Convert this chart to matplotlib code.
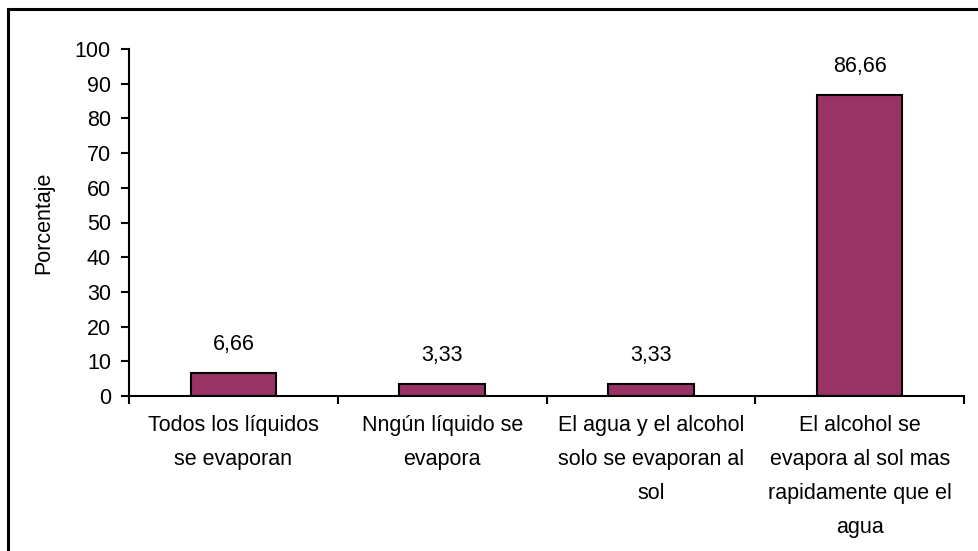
import matplotlib.pyplot as plt
from matplotlib.patches import Rectangle

# Respuestas y porcentajes
categorias = [
    "Todos los líquidos\nse evaporan",
    "Nngún líquido se\nevapora",
    "El agua y el alcohol\nsolo se evaporan al\nsol",
    "El alcohol se\nevapora al sol mas\nrapidamente que el\nagua",
]
porcentajes = [6.66, 3.33, 3.33, 86.66]
etiquetas = ["6,66", "3,33", "3,33", "86,66"]

plt.rcParams["font.family"] = ["Liberation Sans", "DejaVu Sans"]
fs = 15.5

fig = plt.figure(figsize=(9.79, 5.51), dpi=100)
ax = fig.add_axes([129 / 979, 1 - 396 / 551, (964 - 129) / 979, (396 - 49) / 551])

x = range(len(categorias))
ax.bar(x, porcentajes, width=0.41, color="#993366", edgecolor="black", linewidth=1.5)

for xi, v, t in zip(x, porcentajes, etiquetas):
    ax.annotate(t, (xi, v), xytext=(0, 13), textcoords="offset points",
                ha="center", va="bottom", fontsize=fs)

ax.set_xlim(-0.5, len(categorias) - 0.5)
ax.set_ylim(0, 100)
ax.set_yticks(range(0, 101, 10))

# marcas del eje x entre categorías, texto centrado en cada barra
ax.set_xticks([i - 0.5 for i in range(len(categorias) + 1)])
ax.set_xticklabels([])
ax.set_xticks(list(x), minor=True)
ax.set_xticklabels(categorias, minor=True, fontsize=fs, linespacing=1.8, va="top")
ax.tick_params(axis="x", which="minor", length=0, pad=14)
ax.tick_params(axis="x", which="major", length=6, width=1.5, direction="out")
ax.tick_params(axis="y", length=6, width=1.5, direction="out", pad=7, labelsize=fs)

for s in ["top", "right"]:
    ax.spines[s].set_visible(False)
for s in ["left", "bottom"]:
    ax.spines[s].set_linewidth(1.5)

ax.set_ylabel("Porcentaje", fontsize=fs, labelpad=15)

# marco exterior del gráfico
fig.patches.append(Rectangle((8 / 979, -0.1), 1.2, 1.1 - 9.5 / 551,
                             transform=fig.transFigure, fill=False,
                             edgecolor="black", linewidth=2.2))

fig.savefig("out.png", dpi=100)
